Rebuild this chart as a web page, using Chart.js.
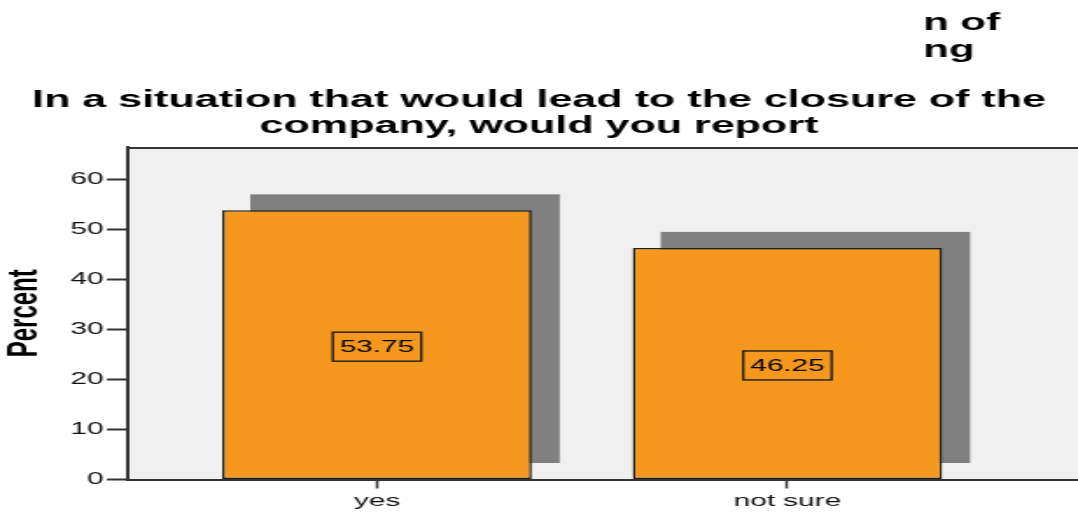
<!DOCTYPE html>
<html>
<head>
<meta charset="utf-8">
<script src="https://cdn.jsdelivr.net/npm/chart.js@4.4.1/dist/chart.umd.min.js"></script>
<style>
  html, body { margin: 0; padding: 0; background: #fff; overflow: hidden; }
  /* the chart is laid out narrow and stretched sideways, like the exported graph */
  #wrap { width: 616px; height: 514px; transform: scaleX(1.75); transform-origin: 0 0; }
</style>
</head>
<body>
<div id="wrap"><canvas id="chart" width="616" height="514"></canvas></div>
<script>
const categories = ['yes', 'not sure'];
const percents = [53.75, 46.25];
const percentTicks = [0, 10, 20, 30, 40, 50, 60];
const titleLines = ['In a situation that would lead to the closure of the', 'company, would you report'];
const cornerLines = ['n of', 'ng'];

const AXIS = '#333333';
const FONT = "'Liberation Sans', Arial, sans-serif";
Chart.defaults.font.family = FONT;

// grey plot panel with a frame line along the top
const panel = {
    id: 'panel',
    beforeDraw(chart) {
        const { ctx, chartArea: a } = chart;
        ctx.save();
        ctx.fillStyle = '#f0f0f0';
        ctx.fillRect(a.left, a.top, a.right - a.left, a.bottom - a.top);
        ctx.strokeStyle = AXIS;
        ctx.lineWidth = 2;
        ctx.beginPath();
        ctx.moveTo(a.left, a.top + 1);
        ctx.lineTo(a.right, a.top + 1);
        ctx.stroke();
        ctx.restore();
    }
};

// flat drop shadow up and to the right of each bar
const barShadow = {
    id: 'barShadow',
    beforeDatasetsDraw(chart) {
        const ctx = chart.ctx;
        ctx.save();
        ctx.fillStyle = '#808080';
        chart.getDatasetMeta(0).data.forEach(bar => {
            const p = bar.getProps(['x', 'y', 'base', 'width'], true);
            ctx.fillRect(p.x - p.width / 2 + 16, p.y - 16, p.width, p.base - p.y);
        });
        ctx.restore();
    }
};

// boxed value label in the middle of each bar
const boxedLabels = {
    id: 'boxedLabels',
    afterDatasetsDraw(chart) {
        const ctx = chart.ctx;
        ctx.save();
        ctx.font = `17px ${FONT}`;
        ctx.textAlign = 'center';
        ctx.textBaseline = 'middle';
        ctx.fillStyle = '#000';
        ctx.strokeStyle = '#1e1e1e';
        ctx.lineWidth = 1.4;
        chart.getDatasetMeta(0).data.forEach((bar, i) => {
            const p = bar.getProps(['x', 'y', 'base'], true);
            const cy = (p.y + p.base) / 2 + 2;
            const text = percents[i].toFixed(2);
            const w = ctx.measureText(text).width + 8;
            ctx.strokeRect(p.x - w / 2, cy - 14.5, w, 29);
            ctx.fillText(text, p.x, cy + 1);
        });
        ctx.restore();
    }
};

// cut-off legend heading in the top right corner
const cornerText = {
    id: 'cornerText',
    afterDraw(chart) {
        const ctx = chart.ctx;
        ctx.save();
        ctx.font = `bold 24px ${FONT}`;
        ctx.fillStyle = '#000';
        ctx.textAlign = 'left';
        ctx.textBaseline = 'alphabetic';
        cornerLines.forEach((line, i) => ctx.fillText(line, 527.5, 30 + i * 27));
        ctx.restore();
    }
};

const ctx = document.getElementById('chart').getContext('2d');
new Chart(ctx, {
    type: 'bar',
    data: {
        datasets: [{
            data: percents.map((v, i) => ({ x: i + 1, y: v })),
            backgroundColor: '#f7981e',
            borderColor: '#1e1e1e',
            borderWidth: 1.5,
            borderSkipped: false,
            categoryPercentage: 1,
            barPercentage: 0.754
        }]
    },
    options: {
        responsive: false,
        animation: false,
        devicePixelRatio: 1,
        layout: { padding: 0 },
        scales: {
            x: {
                type: 'linear',
                offset: false,
                min: 0.391,
                max: 2.708,
                afterBuildTicks: s => { s.ticks = categories.map((c, i) => ({ value: i + 1 })); },
                afterFit: s => { s.height = 34.5; },
                grid: { offset: false, drawOnChartArea: false, drawTicks: true, tickLength: 9, tickColor: AXIS, tickWidth: 1.5 },
                border: { display: true, color: AXIS, width: 2 },
                ticks: {
                    padding: 3,
                    color: '#111',
                    maxRotation: 0,
                    font: { size: 17 },
                    callback: v => categories[v - 1]
                }
            },
            y: {
                min: 0,
                max: 66.4,
                afterBuildTicks: s => { s.ticks = percentTicks.map(v => ({ value: v })); },
                afterFit: s => { s.width = 72.6; },
                grid: { drawOnChartArea: false, drawTicks: true, tickLength: 11.5, tickColor: AXIS, tickWidth: 2 },
                border: { display: true, color: AXIS, width: 2 },
                ticks: { padding: 2, color: '#111', font: { size: 17 } },
                title: {
                    display: true,
                    text: 'Percent',
                    color: '#000',
                    padding: 0,
                    font: { size: 24, weight: 'bold' }
                }
            }
        },
        plugins: {
            legend: { display: false },
            tooltip: { enabled: false },
            title: {
                display: true,
                text: titleLines,
                color: '#000',
                font: { size: 24.6, weight: 'bold', lineHeight: 26 / 24.6 },
                padding: { top: 87, bottom: 8 }
            }
        }
    },
    plugins: [panel, barShadow, boxedLabels, cornerText]
});
</script>
</body>
</html>
